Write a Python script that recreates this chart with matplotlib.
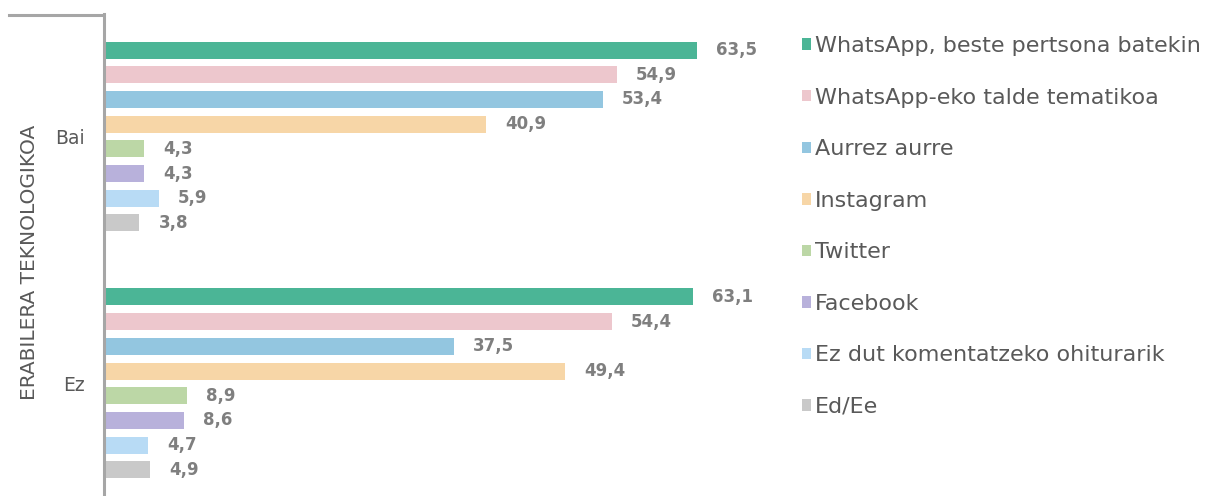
import matplotlib

matplotlib.use("Agg")
import matplotlib.pyplot as plt
from matplotlib.lines import Line2D

# ---- data ---------------------------------------------------------------
groups = ["Bai", "Ez"]
series = [
    "WhatsApp, beste pertsona batekin",
    "WhatsApp-eko talde tematikoa",
    "Aurrez aurre",
    "Instagram",
    "Twitter",
    "Facebook",
    "Ez dut komentatzeko ohiturarik",
    "Ed/Ee",
]
bai_values = [63.5, 54.9, 53.4, 40.9, 4.3, 4.3, 5.9, 3.8]
ez_values = [63.1, 54.4, 37.5, 49.4, 8.9, 8.6, 4.7, 4.9]
colors = [
    "#4BB596",
    "#EDC7CD",
    "#93C6E0",
    "#F7D6A7",
    "#BCD7A6",
    "#B8B1DB",
    "#B8DBF5",
    "#C9C9C9",
]
axis_title = "ERABILERA TEKNOLOGIKOA"

text_col = "#595959"
value_col = "#7F7F7F"
W, H = 1223, 496

fig = plt.figure(figsize=(W / 100, H / 100), dpi=100)
ax = fig.add_axes([104 / W, 0, (780 - 104) / W, (496 - 14) / H])

group_gap = 10  # slots between group starts
for g, vals in enumerate([bai_values, ez_values]):
    for i, (v, c, name) in enumerate(zip(vals, colors, series)):
        y = g * group_gap + i
        ax.barh(y, v, height=0.69, color=c, label=name if g == 0 else None)
        ax.annotate(
            f"{v:.1f}".replace(".", ","),
            (v, y),
            xytext=(19, 0),
            textcoords="offset pixels",
            va="center",
            ha="left",
            fontsize=12,
            fontweight="bold",
            color=value_col,
        )

ax.set_xlim(0, (780 - 104) / 9.34)
ax.set_ylim(18.06, -1.46)
ax.set_xticks([])
ax.set_yticks([g * group_gap + 3.5 for g in range(len(groups))])
ax.set_yticklabels(groups, fontsize=13.5, color=text_col)
ax.tick_params(axis="y", length=0, pad=14)
for s in ["top", "right", "bottom"]:
    ax.spines[s].set_visible(False)
ax.spines["left"].set_color("#A6A6A6")
ax.spines["left"].set_linewidth(2.2)

# top bracket line of the category axis
fig.add_artist(
    Line2D([9 / W, 103 / W], [1 - 15 / H, 1 - 15 / H], color="#A6A6A6", lw=2.2)
)
fig.text(30 / W, 1 - 262 / H, axis_title, rotation=90, ha="center", va="center",
         fontsize=14.5, color=text_col)

fig.legend(
    loc="upper left",
    bbox_to_anchor=(791 / W, 1 - 25 / H),
    frameon=False,
    fontsize=16,
    labelcolor=text_col,
    handlelength=0.42,
    handleheight=0.42,
    handletextpad=0.15,
    labelspacing=1.42,
    borderpad=0,
)

fig.savefig("out.png", dpi=100)
